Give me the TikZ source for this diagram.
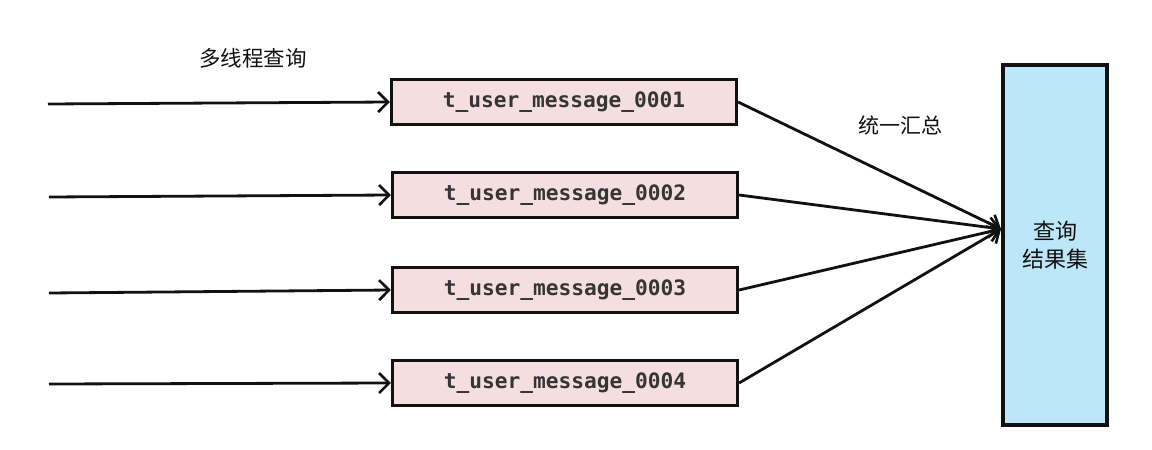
\documentclass[tikz,border=0pt]{standalone}
\usepackage{fontspec}
\usepackage{tikz}
\usetikzlibrary{arrows.meta}
\setmonofont{DejaVu Sans Mono}
\newfontfamily\cjk{Noto Sans CJK SC}
\definecolor{ink}{HTML}{111111}
\definecolor{tbl}{HTML}{F5DEDF}
\definecolor{res}{HTML}{BBE7F8}
\tikzset{
  flow/.style={-{Straight Barb[length=10pt,width=20pt,line width=2.6pt]}, line width=2.8pt, draw=ink},
  shard/.style={draw=ink, line width=3.2pt, fill=tbl, minimum width=345pt, minimum height=45pt,
    font=\ttfamily\bfseries\fontsize{21.2}{25}\selectfont, text=ink!85},
  sink/.style={draw=ink, line width=3.2pt, fill=res, minimum width=104pt, minimum height=360pt,
    font=\cjk\fontsize{22}{28}\selectfont, align=center, text=ink},
  lab/.style={font=\cjk\fontsize{21.5}{24}\selectfont, text=ink}
}
\begin{document}
\begin{tikzpicture}[x=1pt,y=-1pt]
  \useasboundingbox (0,0) rectangle (1152,450);
  \node[shard] (t1) at (564,102) {t\_user\_message\_0001};
  \node[shard] (t2) at (565,195) {t\_user\_message\_0002};
  \node[shard] (t3) at (565,290) {t\_user\_message\_0003};
  \node[shard] (t4) at (565,383) {t\_user\_message\_0004};
  \node[sink] (result) at (1055,245) {查询\\结果集};
  \node[lab] (query) at (253,58) {多线程查询};
  \node[lab, font=\cjk\fontsize{21}{24}\selectfont] (merge) at (900,125) {统一汇总};
  \coordinate (in1) at (48,104);
  \coordinate (in2) at (49,197);
  \coordinate (in3) at (49,293);
  \coordinate (in4) at (49,384);
  \coordinate (hub) at (1001,229);
  \draw[flow] (in1) -- (t1.west);
  \draw[flow] (in2) -- (t2.west);
  \draw[flow] (in3) -- (t3.west);
  \draw[flow] (in4) -- (t4.west);
  \draw[flow] (t1.east) -- (hub);
  \draw[flow] (t2.east) -- (hub);
  \draw[flow] (t3.east) -- (hub);
  \draw[flow] (t4.east) -- (hub);
\end{tikzpicture}
\end{document}
